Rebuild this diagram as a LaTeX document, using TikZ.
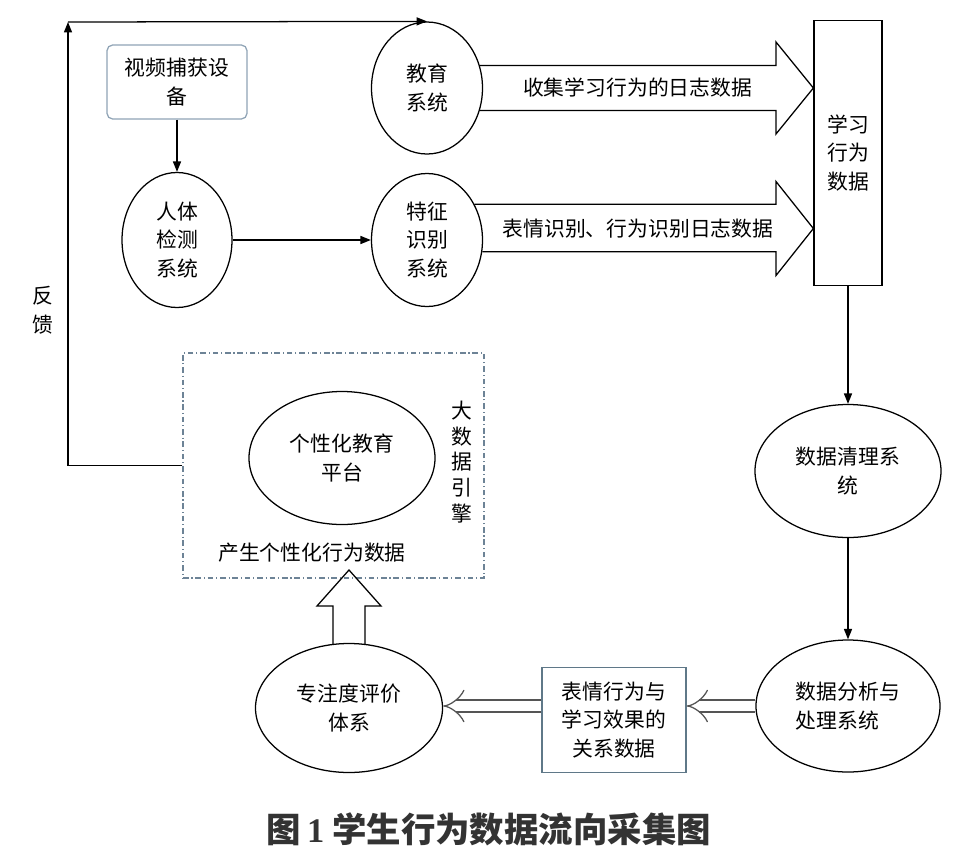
\documentclass[tikz,border=0pt]{standalone}
\usepackage{fontspec}
\setmainfont{Noto Sans CJK SC}
\newfontfamily\numfont{Liberation Serif}
\usetikzlibrary{shapes.geometric,arrows.meta,calc}

\definecolor{camblue}{HTML}{8FA3B5}
\definecolor{relgray}{HTML}{5F7888}
\definecolor{dashblue}{HTML}{6D8396}
\definecolor{dblgray}{HTML}{555555}
\definecolor{captext}{HTML}{333333}

\tikzset{
  sys/.style={ellipse, draw, line width=0.9pt, inner sep=0pt, align=center},
  arr/.style={line width=0.9pt, -{Triangle[length=2.6mm,width=2mm]}},
  bigarrow/.style={line width=0.9pt, line join=miter},
  dbl/.style={draw=dblgray, line width=0.9pt, double, double distance=7.5pt, -{Implies}},
}

\begin{document}
\begin{tikzpicture}[font=\fontsize{14.8}{20.5}\selectfont]
 \useasboundingbox (0,0) rectangle (24.125,-21.525);

 % upper row
 \node[draw=camblue, rounded corners=4pt, line width=0.9pt, minimum width=3.5cm, minimum height=1.85cm, align=center] (cam) at (4.425,-2.05) {视频捕获设\\备};
 \node[sys, minimum width=2.75cm, minimum height=3.375cm] (body) at (4.425,-6.0) {人体\\检测\\系统};
 \node[sys, minimum width=2.775cm, minimum height=3.3cm] (edu) at (10.675,-2.2) {教育\\系统};
 \node[sys, minimum width=2.775cm, minimum height=3.325cm] (feat) at (10.675,-6.0) {特征\\识别\\系统};
 \node[draw, line width=0.9pt, minimum width=1.7cm, minimum height=6.625cm, align=center] (learn) at (21.2,-3.825) {学习\\行为\\数据};

 % right column and lower row
 \node[sys, minimum width=4.65cm, minimum height=3.325cm] (clean) at (21.2,-11.775) {数据清理系\\统};
 \node[sys, minimum width=4.6cm, minimum height=3.3cm, align=left] (ana) at (21.2,-17.65) {数据分析与\\处理系统};
 \node[draw=relgray, line width=0.9pt, minimum width=3.6cm, minimum height=2.625cm, align=center] (rel) at (15.35,-18.0) {表情行为与\\学习效果的\\关系数据};
 \node[sys, minimum width=4.675cm, minimum height=3.225cm] (focus) at (8.725,-17.7) {专注度评价\\体系};

 % big data engine
 \node[draw=dashblue, line width=0.8pt, dash pattern=on 4pt off 2pt on 0.8pt off 2pt, minimum width=7.525cm, minimum height=5.625cm] (bde) at (8.3375,-11.6375) {};
 \node[sys, minimum width=4.65cm, minimum height=3.325cm] (plat) at (8.55,-11.45) {个性化教育\\平台};
 \node (gen) at (7.8,-13.825) {产生个性化行为数据};
 \node[align=center, font=\fontsize{14.8}{18.3}\selectfont] (engine) at (11.55,-11.55) {大\\数\\据\\引\\擎};

 % feedback
 \coordinate (fb) at (1.7,-0.55);
 \node[align=center] (fbtext) at (1.075,-7.75) {反\\馈};
 \draw[arr] (bde.west) -| (fb);
 \draw[arr] (fb) -- (edu.north);

 \draw[arr] (cam) -- (body);
 \draw[arr] (body) -- (feat);
 \draw[arr] (learn) -- (clean);
 \draw[arr] (clean) -- (ana);

 % hollow arrows
 \coordinate (hd1) at (19.4,-2.2);
 \draw[bigarrow] (edu.23) -- (edu.23 -| hd1) -- ($(hd1)+(0,1.15)$) -- (learn.west |- hd1) -- ($(hd1)+(0,-1.15)$) -- (edu.-23 -| hd1) -- (edu.-23);
 \node (log1) at (15.94,-2.2) {收集学习行为的日志数据};

 \coordinate (hd2) at (19.4,-5.7125);
 \draw[bigarrow] (feat.37) -- (feat.37 -| hd2) -- ($(hd2)+(0,1.175)$) -- (learn.west |- hd2) -- ($(hd2)+(0,-1.175)$) -- (feat.-12 -| hd2) -- (feat.-12);
 \node (log2) at (15.95,-5.725) {表情识别、行为识别日志数据};

 \coordinate (hb3) at (8.725,-15.15);
 \coordinate (uptip) at (8.725,-14.25);
 \draw[bigarrow] (focus.104) -- (focus.104 |- hb3) -- ($(hb3)+(-0.8,0)$) -- (uptip) -- ($(hb3)+(0.8,0)$) -- (focus.76 |- hb3) -- (focus.76);

 \draw[dbl] (ana.west) -- (rel.east |- ana.west);
 \draw[dbl] (rel.west |- ana.west) -- (focus.east |- ana.west);

 \node[font=\fontsize{24.5}{28}\selectfont\bfseries, text=captext] (cap) at (12.225,-20.725) {图\,{\numfont 1}\ 学生行为数据流向采集图};
\end{tikzpicture}
\end{document}
